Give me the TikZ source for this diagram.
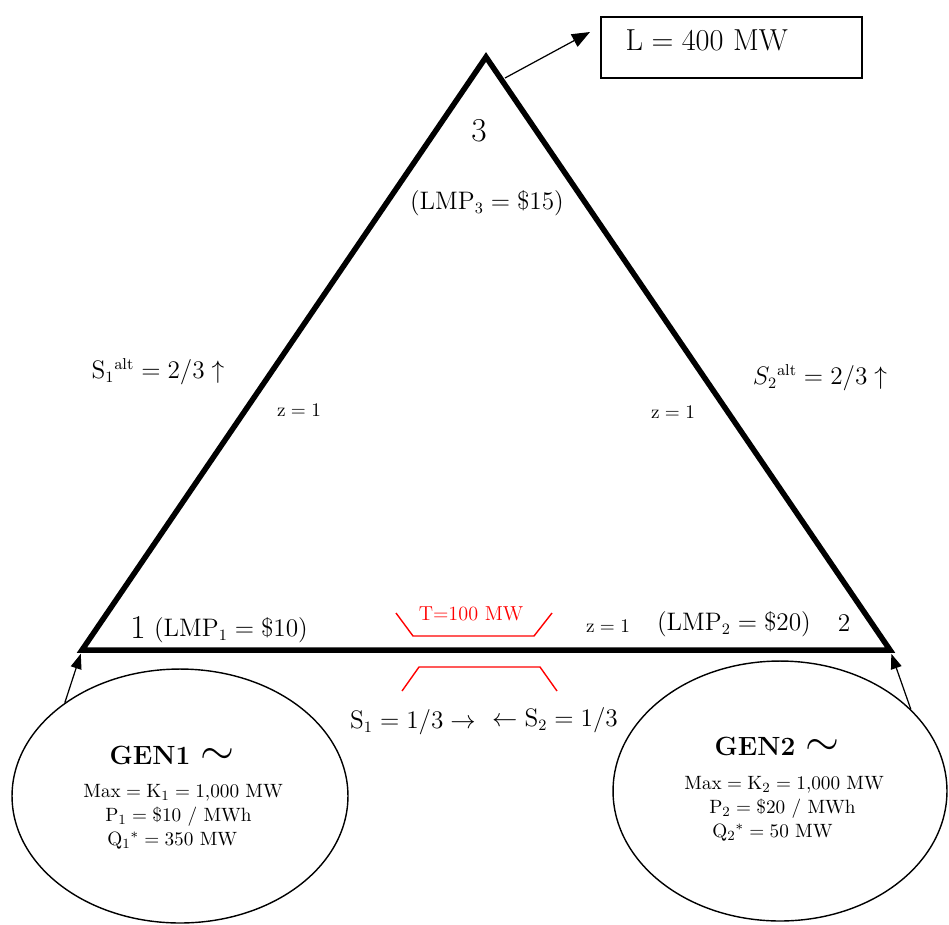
\documentclass[tikz,border=0pt]{standalone}
\usetikzlibrary{arrows.meta,shapes.geometric}

\tikzset{
  bus/.style={line width=0.11cm},
  genunit/.style={draw,ellipse,line width=0.8pt,inner sep=0pt},
  flow/.style={-{Triangle[length=0.36cm,width=0.28cm]},line width=0.7pt},
  limit/.style={red,line width=0.8pt},
  bigtxt/.style={font=\fontsize{18}{21}\selectfont,inner sep=0pt},
  midtxt/.style={font=\fontsize{13.5}{16}\selectfont,inner sep=0pt},
  smalltxt/.style={font=\fontsize{11}{13.6}\selectfont,inner sep=0pt},
}

\begin{document}
\begin{tikzpicture}[x=0.02cm,y=-0.02cm]
\useasboundingbox (0,0) rectangle (949,924);

\coordinate (n1) at (82,650);
\coordinate (n2) at (890,650);
\coordinate (n3) at (486,57);
\draw[bus] (n1) -- (n3) -- (n2) -- cycle;

\node[draw,line width=0.8pt,minimum width=5.22cm,minimum height=1.22cm] (load) at (731.5,47.5) {};
\node[bigtxt] (loadval) at (707,40) {$\mathrm{L} = 400\ \mathrm{MW}$};
\coordinate (tap) at (505,78);
\coordinate (loadin) at (590,32);
\draw[flow] (tap) -- (loadin);

\node[genunit,minimum width=6.72cm,minimum height=5.08cm] (gen1) at (180,796) {};
\node[genunit,minimum width=6.68cm,minimum height=5.2cm] (gen2) at (780,791) {};
\draw[flow,-{Triangle[length=0.3cm,width=0.22cm]},shorten >=0.08cm] (gen1.141) -- (n1);
\draw[flow,-{Triangle[length=0.3cm,width=0.22cm]},shorten >=0.08cm] (gen2.32) -- (n2);

\draw[limit] (396,613) -- (413,636) -- (534,636) -- (552,613);
\draw[limit] (402,691) -- (419,667) -- (540,667) -- (557,691);
\node[smalltxt,red,font=\fontsize{11.5}{14}\selectfont] (tlim) at (471,614) {T=100 MW};

\node[bigtxt,font=\fontsize{19}{22}\selectfont] (lbl3) at (479,131) {3};
\node[midtxt] (lmp3) at (487,203) {$(\mathrm{LMP}_3 = \$15)$};
\node[bigtxt,font=\fontsize{19}{22}\selectfont] (lbl1) at (138,627) {1};
\node[midtxt] (lmp1) at (231,630) {$(\mathrm{LMP}_1 = \$10)$};
\node[midtxt,font=\fontsize{14.5}{17}\selectfont] (lbl2) at (844,623) {2};
\node[midtxt] (lmp2) at (734,624) {$(\mathrm{LMP}_2 = \$20)$};

\node[smalltxt] (z13) at (299,410) {$\mathrm{z} = 1$};
\node[smalltxt] (z23) at (673,412) {$\mathrm{z} = 1$};
\node[smalltxt] (z12) at (608,626) {$\mathrm{z} = 1$};

\node[midtxt] (s1alt) at (158,372) {$\mathrm{S}_1{}^{\mathrm{alt}} = 2/3\uparrow$};
\node[midtxt] (s2alt) at (820,378) {$S_2{}^{\mathrm{alt}} = 2/3\uparrow$};
\node[midtxt] (s1) at (413,722) {$\mathrm{S}_1 = 1/3\rightarrow$};
\node[midtxt] (s2) at (555,720) {$\leftarrow\mathrm{S}_2 = 1/3$};

\node[font=\fontsize{15}{18}\selectfont\bfseries,inner sep=0pt] (gen1name) at (172,755) {GEN1 {\fontsize{24}{24}\selectfont$\sim$}};
\node[smalltxt,align=left,anchor=north west] (gen1data) at (83,784)
  {$\mathrm{Max} = \mathrm{K}_1 = 1{,}000\ \mathrm{MW}$\\
   \hspace{0.44cm}$\mathrm{P}_1 = \$10\ /\ \mathrm{MWh}$\\
   \hspace{0.48cm}$\mathrm{Q}_1{}^{*} = 350\ \mathrm{MW}$};
\node[font=\fontsize{15}{18}\selectfont\bfseries,inner sep=0pt] (gen2name) at (777,746) {GEN2 {\fontsize{24}{24}\selectfont$\sim$}};
\node[smalltxt,align=left,anchor=north west] (gen2data) at (684,776)
  {$\mathrm{Max} = \mathrm{K}_2 = 1{,}000\ \mathrm{MW}$\\
   \hspace{0.5cm}$\mathrm{P}_2 = \$20\ /\ \mathrm{MWh}$\\
   \hspace{0.56cm}$\mathrm{Q}_2{}^{*} = 50\ \mathrm{MW}$};
\end{tikzpicture}
\end{document}
